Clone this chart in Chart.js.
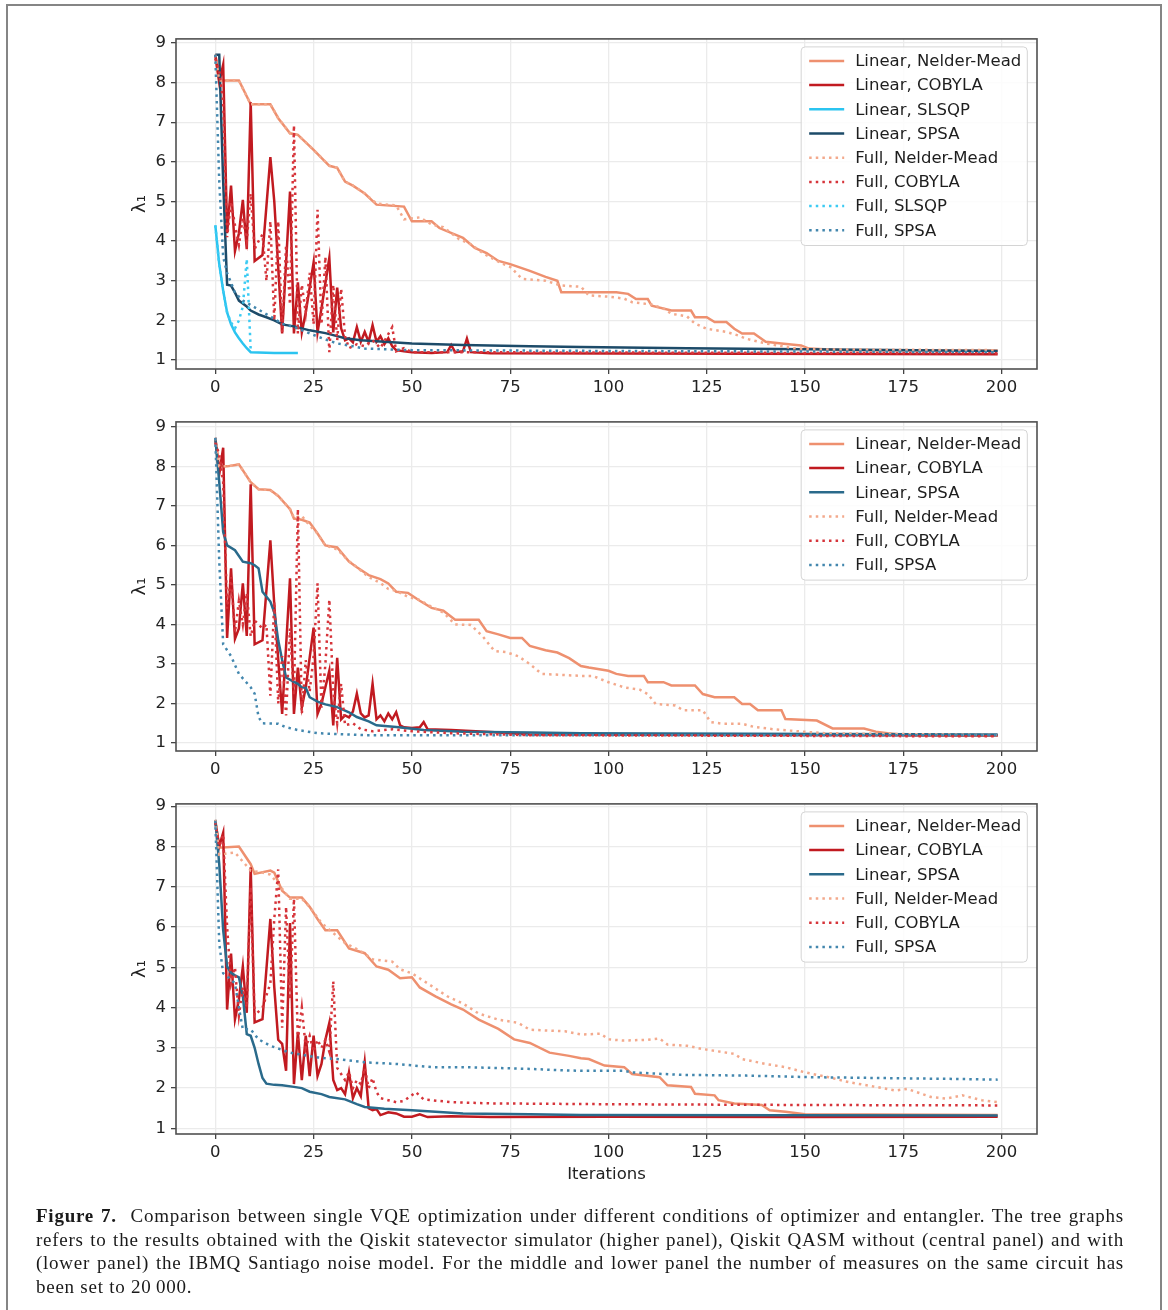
<!DOCTYPE html>
<html>
<head>
<meta charset="utf-8">
<script src="https://cdn.jsdelivr.net/npm/chart.js@4.4.1/dist/chart.umd.min.js"></script>
<style>
  body { margin: 0; background: #fff; width: 1168px; height: 1310px; position: relative; overflow: hidden; }
  .frame { position: absolute; left: 6px; top: 4px; width: 1152px; height: 1400px;
           border: 2px solid #858585; border-bottom: none; }
  canvas { position: absolute; left: 100px; }
  .caption { position: absolute; left: 36px; top: 1204px; width: 1088px;
             font-family: "Liberation Serif", "DejaVu Serif", serif; font-size: 19px;
             line-height: 23.7px; color: #1a1a1a; letter-spacing: 0.75px; }
  .caption div { text-align: justify; text-align-last: justify; white-space: nowrap; }
  .caption div.last { text-align-last: left; }
</style>
</head>
<body>
<div class="frame"></div>
<canvas id="top" width="950" height="385" style="top:24px"></canvas>
<canvas id="mid" width="950" height="384" style="top:407px"></canvas>
<canvas id="bot" width="950" height="417" style="top:789px"></canvas>
<div class="caption">
  <div><b>Figure 7.</b>&nbsp;&nbsp;Comparison between single VQE optimization under different conditions of optimizer and entangler. The tree graphs</div>
  <div>refers to the results obtained with the Qiskit statevector simulator (higher panel), Qiskit QASM without (central panel) and with</div>
  <div>(lower panel) the IBMQ Santiago noise model. For the middle and lower panel the number of measures on the same circuit has</div>
  <div class="last">been set to 20&#8201;000.</div>
</div>
<script>
const xTicks = [0, 25, 50, 75, 100, 125, 150, 175, 200];
const yTicks = [1, 2, 3, 4, 5, 6, 7, 8, 9];

// higher panel: statevector simulator, [iteration, lambda_1]
const topLinNM = [[0,8.7],[1,8.05],[6,8.05],[9,7.45],[14,7.45],[16,7.1],[19,6.72],[21,6.68],[25,6.3],[29,5.9],[31,5.85],[33,5.5],[35,5.4],[38,5.2],[41,4.92],[48,4.87],[50,4.5],[55,4.5],[57,4.33],[63,4.08],[66,3.83],[69,3.7],[72,3.5],[75,3.42],[80,3.25],[84,3.1],[87,3.0],[88,2.71],[102,2.71],[105,2.67],[107,2.54],[110,2.54],[111,2.37],[116,2.25],[121,2.25],[122,2.08],[125,2.08],[127,1.96],[130,1.96],[132,1.79],[134,1.67],[137,1.67],[140,1.46],[144,1.42],[149,1.37],[151,1.29],[160,1.25],[199,1.24]];
const topLinCOB = [[0,8.7],[1,8.0],[2,8.45],[3,4.2],[4,5.4],[5,3.75],[6,4.2],[7,5.04],[8,3.8],[9,7.5],[10,3.5],[12,3.65],[14,6.12],[15,5.0],[17,1.67],[19,5.25],[20,1.67],[21,2.96],[22,1.7],[23,2.2],[25,3.46],[26,1.7],[27,2.3],[29,3.58],[30,1.7],[31,2.83],[32,1.8],[33,1.5],[34,1.55],[35,1.45],[36,1.83],[37,1.46],[38,1.71],[39,1.46],[40,1.88],[41,1.46],[42,1.6],[43,1.4],[44,1.55],[45,1.35],[46,1.25],[48,1.22],[50,1.2],[55,1.18],[59,1.2],[60,1.38],[61,1.2],[63,1.22],[64,1.54],[65,1.2],[70,1.17],[199,1.15]];
const topLinSLS = [[0,4.4],[1,3.42],[2,2.75],[3,2.2],[4,1.9],[5,1.7],[6,1.55],[7,1.42],[8,1.3],[9,1.2],[15,1.18],[21,1.18]];
const topLinSPSA = [[0,8.7],[1,8.7],[2,5.5],[3,2.9],[4,2.88],[5,2.7],[6,2.5],[8,2.35],[9,2.25],[11,2.15],[13,2.08],[15,2.0],[17,1.9],[20,1.85],[24,1.75],[28,1.68],[30,1.63],[33,1.55],[37,1.5],[42,1.47],[50,1.42],[63,1.38],[80,1.35],[93,1.33],[120,1.3],[150,1.27],[199,1.23]];
const topFullNM = [[0,8.7],[1,8.05],[6,8.05],[9,7.45],[14,7.45],[16,7.1],[19,6.72],[21,6.68],[25,6.3],[29,5.9],[31,5.85],[33,5.5],[35,5.4],[38,5.2],[41,4.95],[46,4.9],[48,4.55],[52,4.6],[55,4.42],[58,4.35],[62,4.05],[65,3.92],[68,3.7],[72,3.48],[75,3.35],[78,3.05],[84,3.0],[88,2.88],[93,2.85],[95,2.63],[100,2.6],[104,2.55],[106,2.46],[111,2.4],[114,2.3],[116,2.17],[120,2.1],[122,1.92],[125,1.79],[130,1.71],[133,1.62],[135,1.54],[140,1.42],[147,1.3],[152,1.27],[199,1.25]];
const topFullCOB = [[0,8.6],[1,8.3],[2,7.5],[3,4.1],[4,5.0],[5,4.4],[6,3.9],[7,4.6],[8,4.0],[9,5.2],[10,3.8],[11,4.0],[12,4.17],[13,3.0],[14,4.5],[15,2.0],[16,4.5],[17,1.7],[18,3.9],[19,2.4],[20,6.92],[21,1.67],[22,2.9],[23,2.2],[24,3.2],[25,1.9],[26,4.79],[27,1.9],[28,3.6],[29,1.2],[30,2.9],[31,1.5],[32,2.8],[33,1.6],[34,1.3],[36,1.4],[38,1.35],[40,1.5],[42,1.3],[45,1.83],[46,1.22],[48,1.3],[50,1.2],[199,1.17]];
const topFullSLS = [[0,4.4],[1,3.4],[2,2.75],[3,2.2],[4,1.95],[5,1.8],[6,2.0],[7,2.35],[8,3.55],[9,1.25]];
const topFullSPSA = [[0,8.7],[1,5.5],[2,3.6],[3,3.2],[4,2.95],[5,2.7],[7,2.5],[10,2.33],[14,2.1],[17,1.92],[21,1.8],[24,1.67],[28,1.52],[31,1.42],[35,1.35],[38,1.29],[50,1.25],[100,1.23],[199,1.2]];

// central panel: QASM without noise
const midLinNM = [[0,8.72],[1,8.0],[3,8.0],[6,8.05],[9,7.6],[11,7.42],[14,7.4],[16,7.25],[19,6.92],[20,6.68],[22,6.65],[24,6.58],[26,6.3],[28,6.0],[31,5.95],[34,5.59],[36,5.45],[39,5.25],[42,5.15],[44,5.04],[46,4.83],[49,4.8],[52,4.6],[55,4.42],[58,4.35],[61,4.12],[67,4.12],[69,3.83],[72,3.75],[75,3.66],[78,3.66],[80,3.46],[84,3.35],[87,3.29],[90,3.15],[93,2.95],[95,2.91],[100,2.83],[102,2.75],[105,2.7],[109,2.7],[110,2.54],[114,2.54],[116,2.46],[122,2.46],[124,2.24],[127,2.16],[132,2.16],[134,1.99],[136,1.99],[138,1.83],[144,1.83],[145,1.61],[153,1.57],[157,1.37],[165,1.37],[168,1.29],[171,1.25],[176,1.2],[199,1.19]];
const midLinCOB = [[0,8.72],[1,7.8],[2,8.47],[3,3.66],[4,5.42],[5,3.64],[6,3.9],[7,5.04],[8,3.71],[9,7.55],[10,3.5],[12,3.6],[14,6.13],[15,4.5],[17,1.74],[19,5.17],[20,1.74],[21,2.91],[22,1.9],[23,2.4],[25,3.92],[26,1.74],[27,2.0],[29,2.83],[30,1.45],[31,3.16],[32,1.6],[33,1.7],[34,1.65],[35,1.8],[36,2.25],[37,1.75],[38,1.65],[39,1.7],[40,2.5],[41,1.6],[42,1.7],[43,1.55],[44,1.75],[45,1.6],[46,1.78],[47,1.45],[48,1.4],[50,1.38],[52,1.4],[53,1.53],[54,1.35],[60,1.33],[70,1.28],[80,1.22],[199,1.19]];
const midLinSPSA = [[0,8.72],[1,7.6],[2,6.34],[3,6.0],[5,5.88],[7,5.59],[9,5.55],[10,5.5],[11,5.42],[12,4.83],[14,4.58],[15,4.3],[16,3.6],[17,3.1],[18,2.66],[20,2.55],[21,2.5],[22,2.41],[23,2.4],[24,2.16],[26,2.05],[28,1.98],[31,1.91],[34,1.78],[36,1.66],[39,1.55],[41,1.45],[46,1.41],[53,1.33],[63,1.29],[80,1.27],[93,1.25],[199,1.22]];
const midFullNM = [[0,8.72],[1,8.0],[3,8.0],[6,8.05],[9,7.6],[11,7.42],[14,7.4],[16,7.25],[19,6.92],[20,6.7],[22,6.75],[24,6.5],[26,6.3],[28,6.0],[31,5.9],[34,5.6],[36,5.45],[39,5.2],[42,5.05],[44,4.9],[46,4.85],[49,4.7],[52,4.62],[55,4.45],[58,4.3],[61,4.0],[65,3.99],[68,3.7],[71,3.33],[74,3.3],[77,3.2],[80,3.0],[83,2.75],[93,2.7],[96,2.7],[100,2.54],[104,2.41],[108,2.35],[110,2.24],[112,1.99],[117,1.95],[119,1.83],[124,1.83],[126,1.53],[129,1.49],[134,1.49],[137,1.41],[142,1.35],[148,1.3],[155,1.25],[199,1.2]];
const midFullCOB = [[0,8.6],[1,8.3],[2,7.6],[3,4.4],[4,5.2],[5,3.8],[6,4.6],[7,4.0],[8,4.8],[9,3.7],[10,4.1],[12,3.9],[13,4.0],[14,2.2],[15,4.58],[16,2.0],[17,3.2],[18,1.7],[19,3.9],[20,2.2],[21,6.92],[22,1.74],[23,3.1],[24,2.3],[25,3.2],[26,5.04],[27,1.9],[28,3.0],[29,4.63],[30,2.3],[31,1.5],[32,2.5],[33,1.45],[35,1.5],[37,1.35],[40,1.3],[45,1.35],[50,1.3],[60,1.25],[80,1.2],[199,1.17]];
const midFullSPSA = [[0,8.72],[1,5.6],[2,3.5],[4,3.2],[6,2.75],[9,2.41],[10,2.25],[11,1.66],[12,1.5],[16,1.49],[18,1.4],[21,1.33],[26,1.25],[38,1.2],[199,1.2]];

// lower panel: QASM with IBMQ Santiago noise
const botLinNM = [[0,8.66],[1,7.97],[6,8.0],[9,7.56],[10,7.32],[14,7.4],[15,7.35],[17,6.9],[19,6.73],[22,6.73],[24,6.5],[26,6.2],[28,5.92],[31,5.92],[34,5.47],[38,5.35],[41,5.02],[44,4.94],[47,4.73],[50,4.75],[52,4.5],[56,4.28],[60,4.08],[63,3.95],[67,3.7],[72,3.47],[76,3.21],[80,3.12],[85,2.88],[90,2.8],[93,2.74],[95,2.72],[99,2.56],[104,2.52],[106,2.35],[113,2.27],[115,2.07],[121,2.03],[122,1.86],[127,1.82],[128,1.7],[132,1.62],[139,1.58],[141,1.45],[145,1.41],[150,1.35],[199,1.33]];
const botLinCOB = [[0,8.62],[1,8.0],[2,8.34],[3,3.95],[4,5.34],[5,3.71],[6,4.2],[7,5.02],[8,3.87],[9,7.48],[10,3.63],[12,3.71],[14,6.2],[15,4.5],[16,3.2],[17,3.1],[18,2.43],[19,6.1],[20,2.1],[21,3.38],[22,2.2],[23,3.3],[24,2.3],[25,3.3],[26,2.3],[27,2.6],[28,3.2],[29,3.62],[30,2.2],[31,1.95],[32,2.0],[33,1.85],[34,2.39],[35,1.75],[36,2.0],[37,1.8],[38,2.64],[39,1.5],[40,1.45],[41,1.48],[42,1.33],[44,1.4],[46,1.37],[48,1.29],[50,1.29],[52,1.35],[54,1.28],[60,1.3],[70,1.28],[100,1.29],[150,1.28],[199,1.29]];
const botLinSPSA = [[0,8.66],[1,7.56],[2,5.92],[3,5.02],[4,4.86],[5,4.8],[6,4.75],[7,4.28],[8,3.34],[9,3.3],[10,3.0],[11,2.6],[12,2.25],[13,2.11],[15,2.08],[17,2.07],[20,2.03],[22,2.0],[24,1.91],[27,1.85],[29,1.78],[33,1.72],[36,1.6],[38,1.53],[43,1.49],[50,1.45],[55,1.42],[63,1.37],[80,1.35],[93,1.33],[199,1.32]];
const botFullNM = [[0,8.66],[1,7.8],[5,7.85],[9,7.4],[12,7.35],[14,7.3],[17,6.95],[19,6.7],[22,6.7],[24,6.5],[27,6.1],[30,5.85],[33,5.6],[37,5.4],[40,5.2],[45,5.14],[47,4.95],[50,4.85],[54,4.6],[59,4.28],[63,4.1],[67,3.85],[72,3.7],[77,3.62],[80,3.45],[89,3.41],[93,3.33],[98,3.35],[100,3.21],[104,3.18],[110,3.2],[113,3.23],[115,3.08],[120,3.05],[124,2.97],[132,2.85],[134,2.72],[140,2.6],[145,2.52],[150,2.39],[156,2.27],[161,2.15],[168,2.03],[173,1.94],[176,1.98],[182,1.78],[186,1.74],[190,1.82],[195,1.7],[199,1.65]];
const botFullCOB = [[0,8.6],[1,8.0],[2,8.3],[3,6.0],[4,4.6],[5,5.0],[6,3.8],[7,4.5],[8,4.0],[9,7.0],[10,3.8],[12,4.0],[14,4.6],[15,6.2],[16,7.43],[17,3.5],[18,6.5],[19,4.2],[20,6.7],[21,3.2],[22,4.0],[23,3.0],[24,3.3],[25,2.9],[26,3.2],[27,3.0],[28,3.2],[29,2.9],[30,4.65],[31,2.5],[32,2.35],[33,2.2],[34,2.4],[35,2.0],[36,2.2],[37,2.1],[38,2.5],[39,2.0],[40,2.25],[41,1.9],[42,1.75],[44,1.7],[46,1.65],[48,1.68],[51,1.9],[53,1.72],[60,1.65],[70,1.62],[100,1.6],[150,1.58],[199,1.57]];
const botFullSPSA = [[0,8.64],[1,5.59],[2,4.85],[3,4.78],[5,4.6],[6,4.0],[7,3.46],[9,3.46],[11,3.21],[14,3.05],[19,2.88],[26,2.76],[31,2.72],[38,2.64],[46,2.6],[55,2.52],[63,2.52],[79,2.48],[89,2.44],[93,2.43],[104,2.43],[106,2.39],[118,2.33],[135,2.31],[152,2.27],[169,2.25],[186,2.23],[199,2.21]];

const C = {
  nm: '#ee906f', nmFull: '#f3a98c',
  cob: '#c11a20', cobFull: '#d6343a',
  sls: '#2bc4f0', slsFull: '#3ccbf3',
  spsaDark: '#1d4b69', spsa: '#2a6a8b', spsaFull: '#4387ae'
};
const DOT = [2.5, 4.1];
const FONT = '"DejaVu Sans", sans-serif';

function line(label, pts, color, dotted) {
  return {
    label: label,
    data: pts.map(p => ({x: p[0], y: p[1]})),
    borderColor: color,
    backgroundColor: color,
    borderWidth: 2.5,
    borderDash: dotted ? DOT : [],
    borderCapStyle: 'butt',
    pointRadius: 0,
    tension: 0,
    fill: false
  };
}

const frameAndLegend = {
  id: 'frameAndLegend',
  afterDatasetsDraw(chart) {
    const {ctx, chartArea: a} = chart;
    ctx.save();
    ctx.strokeStyle = '#505050';
    ctx.lineWidth = 1.6;
    ctx.setLineDash([]);
    ctx.strokeRect(a.left, a.top, a.right - a.left, a.bottom - a.top);

    const ds = chart.data.datasets;
    ctx.font = '16.5px ' + FONT;
    const tw = Math.max(...ds.map(d => ctx.measureText(d.label).width));
    const w = 8 + 35 + 11 + tw + 6;
    const h = ds.length * 24.2 + 5;
    const x = a.right - 9.7 - w, y = a.top + 8;
    ctx.beginPath();
    ctx.roundRect(x, y, w, h, 4);
    ctx.fillStyle = 'rgba(255,255,255,0.85)';
    ctx.fill();
    ctx.strokeStyle = '#d4d4d4';
    ctx.lineWidth = 1;
    ctx.stroke();
    ds.forEach((d, i) => {
      const cy = y + 14 + i * 24.2;
      ctx.beginPath();
      ctx.strokeStyle = d.borderColor;
      ctx.lineWidth = d.borderWidth;
      ctx.lineCap = 'butt';
      ctx.setLineDash(d.borderDash);
      ctx.moveTo(x + 8, cy);
      ctx.lineTo(x + 43, cy);
      ctx.stroke();
      ctx.setLineDash([]);
      ctx.fillStyle = '#1e1e1e';
      ctx.textBaseline = 'middle';
      ctx.textAlign = 'left';
      ctx.fillText(d.label, x + 54, cy + 1);
    });
    ctx.restore();
  }
};

function panel(id, datasets, yMin, yMax, xAxisH, xTitle) {
  datasets.forEach((d, i) => { d.order = datasets.length - i; });
  new Chart(document.getElementById(id), {
    type: 'line',
    data: { datasets: datasets },
    options: {
      responsive: false,
      animation: false,
      layout: { padding: { top: 12, right: 13, left: 0, bottom: 0 } },
      plugins: { legend: { display: false }, tooltip: { enabled: false } },
      scales: {
        x: {
          type: 'linear', min: -10, max: 209,
          afterBuildTicks: s => { s.ticks = xTicks.map(v => ({ value: v })); },
          afterFit: s => { s.height = xAxisH; },
          border: { display: false },
          grid: { color: '#ebebeb', lineWidth: 1.3, tickColor: '#444', tickLength: 5, tickWidth: 1.3 },
          ticks: { color: '#222', font: { family: FONT, size: 16.5 }, padding: 4, maxRotation: 0,
                   callback: v => String(v) },
          title: { display: !!xTitle, text: xTitle || '', color: '#222',
                   font: { family: FONT, size: 16.5 }, padding: { top: 0, bottom: 21 } }
        },
        y: {
          type: 'linear', min: yMin, max: yMax,
          afterBuildTicks: s => { s.ticks = yTicks.map(v => ({ value: v })); },
          afterFit: s => { s.width = 76; },
          border: { display: false },
          grid: { color: '#ebebeb', lineWidth: 1.3, tickColor: '#444', tickLength: 5, tickWidth: 1.3 },
          ticks: { color: '#222', font: { family: FONT, size: 16.5 }, padding: 5,
                   callback: v => String(v) },
          title: { display: true, text: 'λ₁', color: '#222',
                   font: { family: FONT, size: 18 }, padding: { top: 30, bottom: 0 } }
        }
      }
    },
    plugins: [frameAndLegend]
  });
}

panel('top', [
  line('Linear, Nelder-Mead', topLinNM, C.nm, false),
  line('Linear, COBYLA', topLinCOB, C.cob, false),
  line('Linear, SLSQP', topLinSLS, C.sls, false),
  line('Linear, SPSA', topLinSPSA, C.spsaDark, false),
  line('Full, Nelder-Mead', topFullNM, C.nmFull, true),
  line('Full, COBYLA', topFullCOB, C.cobFull, true),
  line('Full, SLSQP', topFullSLS, C.slsFull, true),
  line('Full, SPSA', topFullSPSA, C.spsaFull, true)
], 0.775, 9.1, 40, null);

panel('mid', [
  line('Linear, Nelder-Mead', midLinNM, C.nm, false),
  line('Linear, COBYLA', midLinCOB, C.cob, false),
  line('Linear, SPSA', midLinSPSA, C.spsa, false),
  line('Full, Nelder-Mead', midFullNM, C.nmFull, true),
  line('Full, COBYLA', midFullCOB, C.cobFull, true),
  line('Full, SPSA', midFullSPSA, C.spsaFull, true)
], 0.8, 9.125, 40, null);

panel('bot', [
  line('Linear, Nelder-Mead', botLinNM, C.nm, false),
  line('Linear, COBYLA', botLinCOB, C.cob, false),
  line('Linear, SPSA', botLinSPSA, C.spsa, false),
  line('Full, Nelder-Mead', botFullNM, C.nmFull, true),
  line('Full, COBYLA', botFullCOB, C.cobFull, true),
  line('Full, SPSA', botFullSPSA, C.spsaFull, true)
], 0.86, 9.057, 72, 'Iterations');
</script>
</body>
</html>
